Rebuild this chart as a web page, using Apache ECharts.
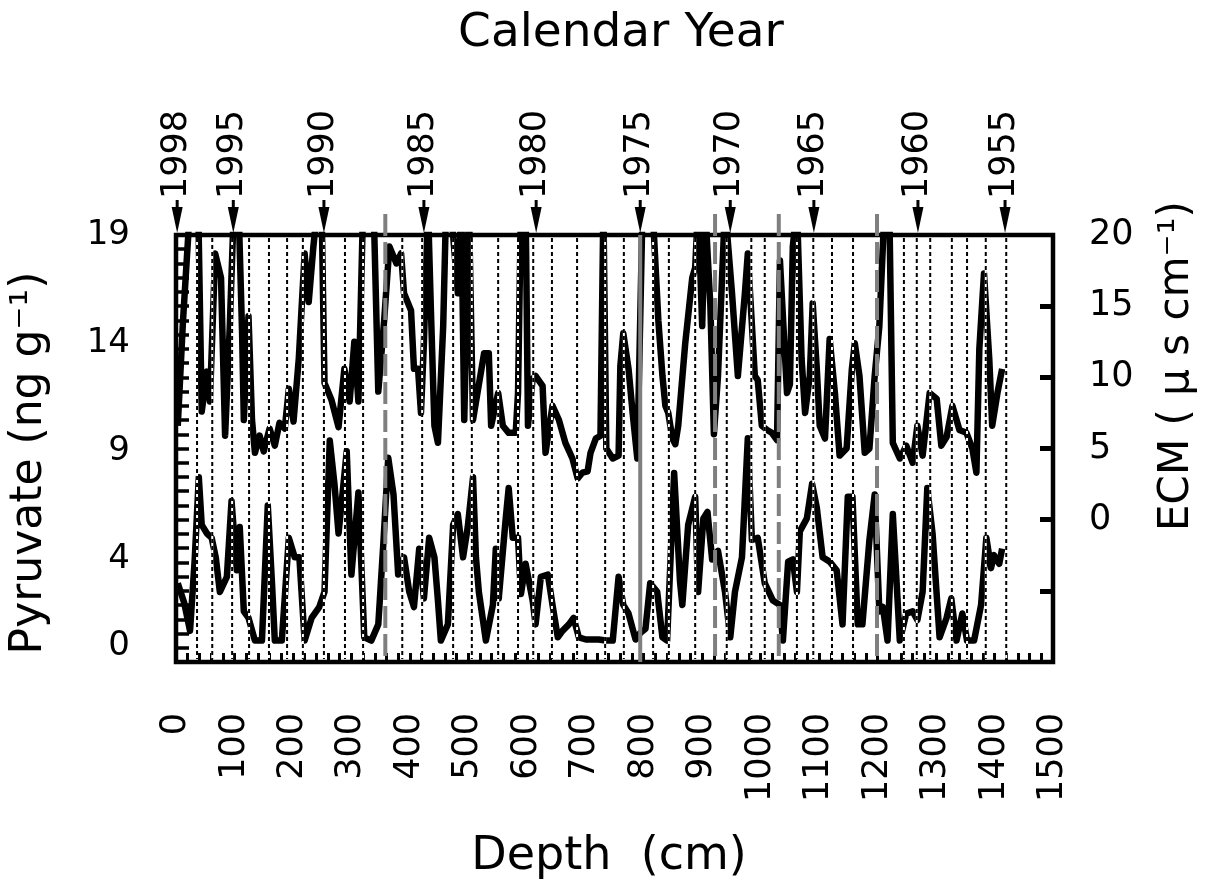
<!DOCTYPE html>
<html><head><meta charset="utf-8">
<script src="https://cdn.jsdelivr.net/npm/echarts@6/dist/echarts.min.js"></script>
<style>html,body{margin:0;padding:0;background:#fff}#c{width:1208px;height:880px}</style>
</head><body><div id="c"></div>
<script>
// ECM (right axis) trace (values above 20 are clipped by the frame)
const ecmDepth = [3,12,24,38,44,53,58,67,77,84,92,99,107,113,116,124,130,135,143,150,160,169,177,186,193,201,210,220,227,235,242,249,254,266,278,288,297,305,312,320,338,346,356,365,377,385,390,402,407,414,419,424,431,436,442,448,457,462,470,482,488,493,501,508,518,527,535,539,551,559,569,581,585,590,598,602,610,615,627,632,644,655,666,678,687,695,704,709,718,726,731,736,747,757,760,765,774,781,789,798,815,825,832,837,842,849,854,859,871,883,888,893,900,905,914,920,927,939,951,961,973,978,990,995,1002,1011,1019,1028,1033,1045,1050,1055,1062,1070,1076,1084,1089,1096,1101,1110,1118,1127,1135,1147,1156,1161,1169,1178,1186,1195,1203,1212,1220,1226,1238,1249,1260,1268,1277,1289,1301,1309,1318,1328,1340,1352,1362,1369,1374,1382,1391,1396,1405,1413];
const ecmValue = [6.6,14,22,22,7.6,10.4,8.3,18.7,17,5.9,13.6,22,22,13.2,7,14.3,7,4.7,5.9,4.8,6.4,5.2,6.8,6.4,9.2,6.9,11.3,18.7,15.3,19.2,22,22,9.6,8.4,6.5,10.6,8.3,12.5,8.3,22,22,9,14,19.2,18,18.7,15.9,14.7,10.6,10.6,7.5,12.4,22,14.7,6.6,5.4,13.6,22,22,15.9,22,7,22,7,9.5,11.7,11.7,6.6,8.9,6.6,6.1,6.1,8.9,22,22,6.6,9.9,10.1,9.4,4.7,8,7,5.4,4.3,2.9,3.3,3.4,4.7,5.7,5.9,22,5,4.3,4.5,10.8,13.1,10.6,7.5,4.3,22,22,14,10.1,8,7.5,5.7,5.3,6.6,12.4,17,17.7,22,13.6,22,15,6,10.1,22,15.9,10.1,15.9,18.7,10.1,9.8,6.6,6.3,6.1,5.6,18.2,8.9,9.5,19.2,22,11.3,7.5,10.1,15.2,10.6,6.6,5.7,12.7,8.9,4.5,5,10.6,12.4,10.1,4.7,5,10.1,13.6,22,22,5.4,4.3,5.2,4,6.6,4.5,8.9,8.5,5.2,5.8,8,6.3,6.1,5,3.3,12,17.3,11.3,6.6,8.9,10.6];

// Pyruvate (left axis) trace
const pyrDepth = [3,14,24,32,39,44,53,61,68,75,87,95,104,109,116,124,135,147,157,164,169,181,193,203,211,220,232,245,254,263,271,278,292,300,312,322,334,346,355,363,372,380,390,399,407,416,424,433,442,448,453,465,474,482,491,499,508,513,518,530,542,547,552,564,569,576,585,590,598,610,615,624,636,644,653,661,672,680,689,701,723,735,747,757,765,774,786,794,803,811,823,832,840,852,862,866,876,888,893,902,909,917,927,939,948,956,968,978,985,995,1007,1021,1033,1038,1047,1055,1062,1067,1079,1088,1096,1106,1118,1130,1140,1149,1157,1166,1174,1186,1195,1203,1209,1217,1226,1238,1249,1260,1268,1277,1285,1294,1306,1318,1326,1335,1345,1353,1365,1377,1386,1394,1399,1408,1413];
const pyrValue = [2.9,2.0,0.7,4,7.8,5.6,5.2,5.0,4.1,2.5,3.2,6.7,3.5,5.5,1.6,1.3,0.25,0.25,6.5,3,0.25,0.25,5.0,4.1,4.1,0.25,1.3,1.8,2.5,9.5,7.5,5.2,9,3.3,7.1,0.4,0.25,1.0,4.9,8.7,7,3.3,4.1,2.5,1.8,4.5,2.2,5.0,4.1,2.1,0.25,1.0,5.6,6.1,4.1,5.5,7.8,4.1,2.5,0.25,1.9,4.5,2.2,5.9,7.3,5.0,5.0,2.4,3.8,2.1,1.0,3.2,3.3,1.9,0.4,0.7,1.0,1.3,0.4,0.3,0.3,0.25,0.25,3.2,1.9,1.5,0.3,0.6,0.8,2.9,2.5,0.4,0.25,8,3,1.9,5.6,6.9,2.5,5.9,6.2,4,4.4,2.5,0.4,2.5,4.1,9.6,4.9,5,2.9,2.1,1.9,0.25,3.9,4.0,2.5,5.3,5.9,7.5,6.4,4.1,3.9,3.5,1.0,6.9,6.9,1.0,1.0,4.9,7.0,1.6,1.8,0.25,6.1,0.25,1.5,1.6,1.2,2.5,7.3,5.2,0.4,1.3,2.2,0.25,1.5,0.25,0.25,1.9,5.0,3.6,4.2,3.8,4.5];

// Annual layer markers (dotted) and grey event markers
const layerDepth = [36,62,96,125,159,190,217,253,289,320,387,421,474,506,551,585,611,643,686,734,766,816,843,888,942,984,1007,1062,1090,1122,1158,1245,1267,1290,1327,1353,1385,1420];
const grayDepth = [358,794,922,1031,1199];
const grayDashed = [true,false,true,true,true];

// Calendar year arrows (top)
const yearDepth = [2,98,253,424,616,794,948,1091,1269,1418];
const yearLabel = ['1998','1995','1990','1985','1980','1975','1970','1965','1960','1955'];

// Axis tick labels
const pyrLabels = [0,4,9,14,19];
const ecmLabels = [0,5,10,15,20];
const ecmTicks = [-5,0,5,10,15];

const FONT = 'DejaVu Sans';
const chart = echarts.init(document.getElementById('c'), null, {renderer:'canvas'});

const option = {
  animation: false,
  backgroundColor: '#fff',
  grid: {left:176, top:235, width:877, height:427, show:true, borderColor:'#000', borderWidth:4.5, backgroundColor:'transparent'},
  xAxis: [{
    type:'value', min:0, max:1500, interval:100, position:'bottom',
    axisLine:{show:false, onZero:false}, splitLine:{show:false},
    axisTick:{show:true, inside:true, length:9, lineStyle:{color:'#000', width:3}},
    minorTick:{show:true, splitNumber:5, length:9, lineStyle:{color:'#000', width:3}},
    axisLabel:{rotate:90, margin:51, fontSize:35, fontFamily:FONT, color:'#000', padding:[0,0,11,0],
               formatter: v => String(v)}
  }],
  yAxis: [
    {type:'value', min:-0.74, max:19, position:'left',
     axisLine:{show:false, onZero:false}, splitLine:{show:false}, axisTick:{show:false},
     axisLabel:{customValues:pyrLabels, margin:46, fontSize:34, fontFamily:FONT, color:'#000'}},
    {type:'value', min:-10, max:20, position:'right',
     axisLine:{show:false, onZero:false}, splitLine:{show:false},
     axisTick:{show:true, inside:true, length:13, customValues:ecmTicks, lineStyle:{color:'#000', width:5}},
     axisLabel:{customValues:ecmLabels, margin:36, fontSize:35, fontFamily:FONT, color:'#000'}},
    {type:'value', min:-10, max:20, interval:1, position:'left', offset:0,
     axisLine:{show:false, onZero:false}, splitLine:{show:false},
     axisTick:{show:true, inside:true, length:13, lineStyle:{color:'#000', width:3.5}},
     axisLabel:{show:false}}
  ],
  series: [
    {type:'line', name:'ECM', xAxisIndex:0, yAxisIndex:1, z:2, clip:true,
     data: ecmDepth.map((d,i)=>[d, ecmValue[i]]), symbol:'none', showSymbol:false,
     lineStyle:{color:'#000', width:6.5, join:'round'}},
    {type:'line', name:'Pyruvate', xAxisIndex:0, yAxisIndex:0, z:2, clip:true,
     data: pyrDepth.map((d,i)=>[d, pyrValue[i]]), symbol:'none', showSymbol:false,
     lineStyle:{color:'#000', width:6.5, join:'round'}},
    {type:'custom', name:'layers', xAxisIndex:0, yAxisIndex:0, z:5, clip:false, silent:true,
     data: layerDepth.map(d=>[d,0]),
     renderItem: function(params, api){
       const cs = params.coordSys;
       const x = api.coord([api.value(0), 0])[0];
       const y1 = cs.y + 3, y2 = cs.y + cs.height - 3;
       return {type:'group', children:[
         {type:'line', shape:{x1:x,y1:y1,x2:x,y2:y2}, style:{stroke:'#fff', lineWidth:2}},
         {type:'line', shape:{x1:x,y1:y1,x2:x,y2:y2}, style:{stroke:'#000', lineWidth:2, lineDash:[4,3]}}
       ]};
     }},
    {type:'custom', name:'events', xAxisIndex:0, yAxisIndex:0, z:6, clip:false, silent:true,
     data: grayDepth.map(d=>[d,0]),
     renderItem: function(params, api){
       const cs = params.coordSys;
       const x = api.coord([api.value(0), 0])[0];
       const dashed = grayDashed[params.dataIndex];
       const y1 = dashed ? cs.y - 21 : cs.y, y2 = cs.y + cs.height;
       return {type:'line', shape:{x1:x,y1:y1,x2:x,y2:y2},
         style:{stroke:'#7f7f7f', lineWidth:4, lineDash: dashed ? [22,6] : null}};
     }},
    {type:'custom', name:'years', xAxisIndex:0, yAxisIndex:0, z:7, clip:false, silent:true,
     data: yearDepth.map(d=>[d,0]),
     renderItem: function(params, api){
       const cs = params.coordSys;
       const x = api.coord([api.value(0), 0])[0];
       const top = cs.y - 2;
       return {type:'group', children:[
         {type:'line', shape:{x1:x,y1:top-33,x2:x,y2:top-22}, style:{stroke:'#000', lineWidth:3}},
         {type:'polygon', shape:{points:[[x-5.5,top-26],[x+5.5,top-26],[x,top]]}, style:{fill:'#000'}},
         {type:'text', x:x, y:top-34, rotation:Math.PI/2,
          style:{text:yearLabel[params.dataIndex], fontSize:35, fontFamily:FONT, fill:'#000', align:'left', verticalAlign:'middle'}}
       ]};
     }}
  ],
  graphic: [
    {type:'text', x:621, y:34, style:{text:'Calendar Year', fontSize:47, fontFamily:FONT, fill:'#000', align:'center', verticalAlign:'middle'}},
    {type:'text', x:609, y:857, style:{text:'Depth  (cm)', fontSize:46, fontFamily:FONT, fill:'#000', align:'center', verticalAlign:'middle'}},
    {type:'text', x:30, y:463, rotation:Math.PI/2, style:{text:'Pyruvate (ng g\u207B\u00B9)', fontSize:44, fontFamily:FONT, fill:'#000', align:'center', verticalAlign:'middle'}},
    {type:'text', x:1177, y:366, rotation:Math.PI/2, style:{text:'ECM ( \u03BC s cm\u207B\u00B9)', fontSize:42, fontFamily:FONT, fill:'#000', align:'center', verticalAlign:'middle'}}
  ]
};
chart.setOption(option);
</script>
</body></html>
